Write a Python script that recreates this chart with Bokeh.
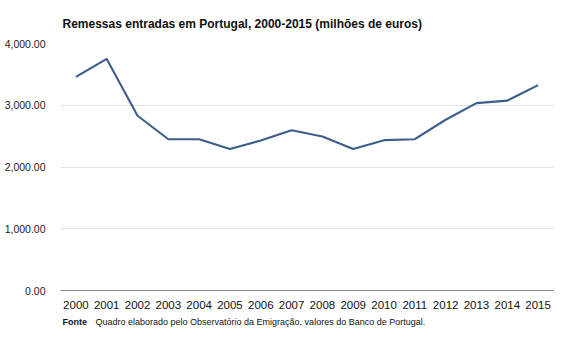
from bokeh.plotting import figure
from bokeh.layouts import column
from bokeh.models import Range1d, FactorRange, NumeralTickFormatter, FixedTicker, Title
from bokeh.core.properties import value
from bokeh.embed import file_html
from bokeh.resources import INLINE

years = [str(y) for y in range(2000, 2016)]
remessas = [3460, 3750, 2830, 2450, 2450, 2290, 2430, 2595, 2495, 2290,
            2435, 2450, 2765, 3035, 3075, 3325]
y_ticks = [0, 1000, 2000, 3000, 4000]
title_text = "Remessas  entradas em Portugal, 2000-2015  (milhões de euros)"
fonte_label = "Fonte"
fonte_text = "Quadro elaborado  pelo  Observatório da Emigração,  valores do Banco de Portugal."

p = figure(width=567, height=313, x_range=FactorRange(*years), y_range=Range1d(0, 4000),
           output_backend="svg", toolbar_location=None,
           min_border_left=60, min_border_right=14, min_border_top=43, min_border_bottom=23)
p.title = None
p.outline_line_color = None
p.background_fill_color = "white"
p.border_fill_color = "white"

p.line(years, remessas, line_color="#3d5e8c", line_width=2.1)

p.yaxis.ticker = FixedTicker(ticks=y_ticks)
p.yaxis.formatter = NumeralTickFormatter(format="0,0.00")
p.yaxis.axis_line_color = None
p.yaxis.major_tick_line_color = None
p.yaxis.minor_tick_line_color = None
p.yaxis.major_label_text_font = "Liberation Sans"
p.yaxis.major_label_text_font_size = "10.5px"
p.yaxis.major_label_text_color = "#222222"
p.yaxis.major_label_standoff = 9

p.xaxis.axis_line_color = "#888888"
p.xaxis.axis_line_width = 1
p.xaxis.major_tick_line_color = None
p.xaxis.minor_tick_line_color = None
p.xaxis.major_label_text_font = "Liberation Sans"
p.xaxis.major_label_text_font_size = "11.5px"
p.xaxis.major_label_text_color = "#111111"
p.xaxis.major_label_standoff = 4

p.xgrid.grid_line_color = None
p.ygrid.grid_line_color = "#e2e2e2"
p.ygrid.ticker = FixedTicker(ticks=y_ticks)

p.add_layout(Title(text=title_text, text_font="Liberation Sans", text_font_size="12px",
                   text_font_style="bold", text_color="#111111", align="left", offset=2,
                   standoff=25), "above")

# footer (source note); its frame is aligned with the main frame (x 60..553)
f = figure(width=567, height=27, x_range=Range1d(60, 553), y_range=Range1d(0, 27),
           output_backend="svg", toolbar_location=None, x_axis_type=None, y_axis_type=None,
           min_border=0)
f.outline_line_color = None
f.xgrid.grid_line_color = None
f.ygrid.grid_line_color = None
f.border_fill_color = "white"
f.text(x=[62], y=[19], text=[fonte_label], text_font=value("Liberation Sans"),
       text_font_size="9px", text_font_style="bold", text_color="#111111",
       text_baseline="middle")
f.text(x=[95], y=[19], text=[fonte_text], text_font=value("Liberation Sans"),
       text_font_size="9px", text_color="#111111", text_baseline="middle")

layout = column(p, f, spacing=0)
open("out.html", "w").write(file_html(layout, INLINE))
